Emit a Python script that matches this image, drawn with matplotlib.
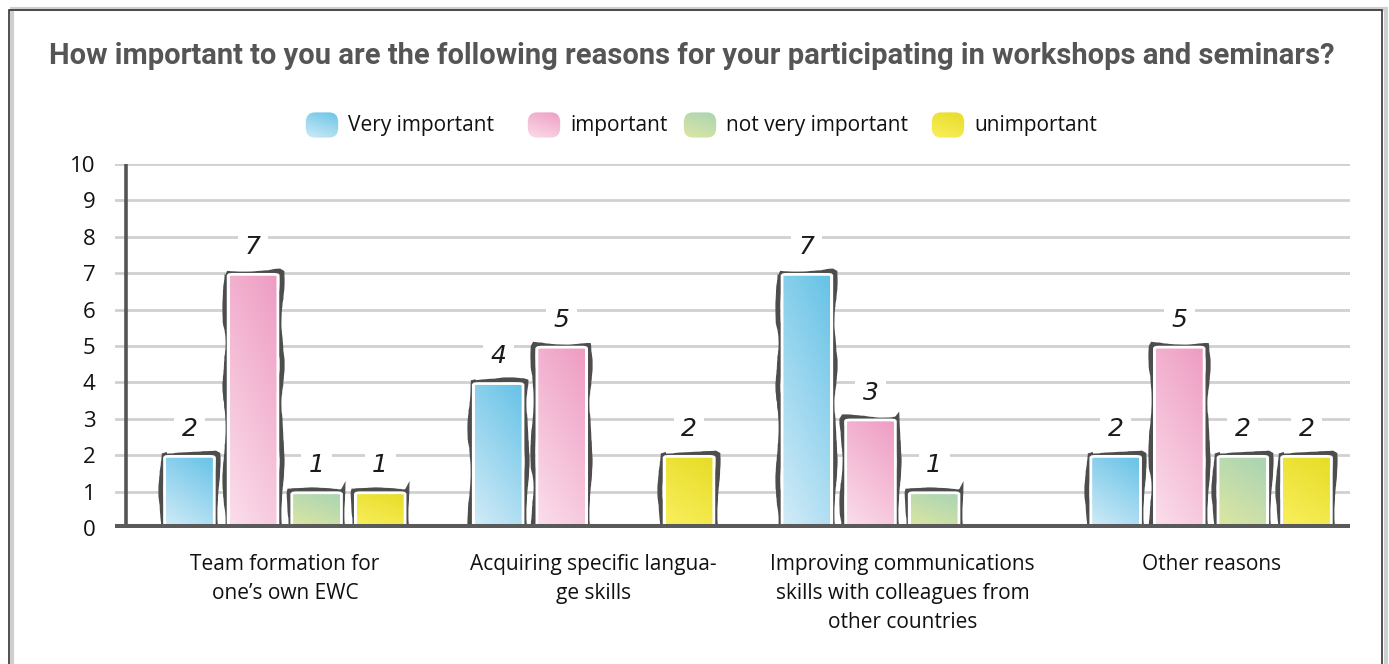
import numpy as np
import matplotlib
matplotlib.use("Agg")
import matplotlib.pyplot as plt
from matplotlib.patches import Rectangle, FancyBboxPatch
from matplotlib.colors import to_rgb

# --- data -------------------------------------------------------------
title = "How important to you are the following reasons for your participating in workshops and seminars?"
categories = [
    "Team formation for\none\u2019s own EWC",
    "Acquiring specific langua-\nge skills",
    "Improving communications\nskills with colleagues from\nother countries",
    "Other reasons",
]
series_names = ["Very important", "important", "not very important", "unimportant"]
very_important = [2, 4, 7, 2]
important = [7, 5, 3, 5]
not_very_important = [1, 0, 1, 2]
unimportant = [1, 2, 0, 2]
yticks = list(range(0, 11))

series_values = [very_important, important, not_very_important, unimportant]
# (dark corner, light corner) of each marker-style gradient
series_colors = [
    ("#66c2e6", "#d3ecf8"),
    ("#ee9cc2", "#fbdfec"),
    ("#a8d3b4", "#dfe7a2"),
    ("#e6dc25", "#faf060"),
]

plt.rcParams["font.family"] = ["Open Sans", "DejaVu Sans"]

fig = plt.figure(figsize=(13.89, 6.64), dpi=100)
fig.patch.set_facecolor("white")

# page frame with a soft shadow on the right
fig.patches.append(Rectangle((12 / 1389, -0.05), 1374 / 1389, 1.05 - 9 / 664,
                             transform=fig.transFigure, facecolor="none",
                             edgecolor="#cfcfcf", lw=3, zorder=0))
fig.patches.append(Rectangle((9 / 1389, -0.05), 1373 / 1389, 1.05 - 10 / 664,
                             transform=fig.transFigure, facecolor="none",
                             edgecolor="#333333", lw=1.2, zorder=1))

ax = fig.add_axes([115 / 1389, 136 / 664, 1235 / 1389, 364 / 664])
ax.set_facecolor("none")

n_series = len(series_values)
group_x = np.arange(len(categories))
step = 0.206
bar_w = 0.152
x_lo, x_hi = -0.55, 3.45


def gradient_image(c_dark, c_light):
    g = np.linspace(0, 1, 64)
    xx, yy = np.meshgrid(g, g)
    # rows run top to bottom: dark at the top-right, light at the bottom-left
    t = np.clip(((1 - xx) * 0.6 + yy * 1.4) / 2.0, 0, 1)
    a = np.array(to_rgb(c_dark))
    b = np.array(to_rgb(c_light))
    return a[None, None, :] * (1 - t[..., None]) + b[None, None, :] * t[..., None]


for si, vals in enumerate(series_values):
    c_dark, c_light = series_colors[si]
    img = gradient_image(c_dark, c_light)
    for gi, v in enumerate(vals):
        if v <= 0:
            continue
        xc = group_x[gi] + (si - (n_series - 1) / 2) * step
        x0, x1 = xc - bar_w / 2, xc + bar_w / 2
        # sketchy dark outline behind the fill, nudged up and to the left
        outline = Rectangle((x0 - 0.013, -0.05), bar_w + 0.023, v + 0.08,
                            facecolor="none", edgecolor="#4d4d4d", lw=3.6,
                            zorder=3)
        outline.set_sketch_params(scale=1.6, length=160, randomness=6)
        ax.add_patch(outline)
        # white halo separating the bar from grid and outline
        halo = FancyBboxPatch((x0, -0.05), bar_w, v - 0.02,
                              boxstyle="round,pad=0,rounding_size=0.012",
                              mutation_aspect=36.4 / 310 * 10,
                              facecolor="white", edgecolor="white", lw=4,
                              zorder=4)
        ax.add_patch(halo)
        clip = FancyBboxPatch((x0, -0.05), bar_w, v - 0.02,
                              boxstyle="round,pad=0,rounding_size=0.012",
                              mutation_aspect=36.4 / 310 * 10,
                              facecolor="none", edgecolor="none",
                              transform=ax.transData)
        ax.add_patch(clip)
        im = ax.imshow(img, extent=(x0, x1, -0.05, v), origin="upper",
                       aspect="auto", zorder=5, interpolation="bilinear")
        im.set_clip_path(clip)
        ax.text(xc, v + 0.72, str(v), ha="center", va="center",
                fontsize=18, fontstyle="oblique", fontweight="ultralight",
                family=["DejaVu Sans"], color="#1a1a1a",
                zorder=6,
                bbox=dict(boxstyle="square,pad=0.3", fc="white", ec="none"))

# grid, axis line and baseline
for t in yticks[1:]:
    ax.axhline(t, color="#d0d0d0", lw=2, zorder=1)
ax.plot([x_lo + 0.036, x_lo + 0.036], [0, 10], color="#555555", lw=2.6,
        zorder=2, solid_capstyle="butt")
ax.axhline(0, color="#5a5a5a", lw=6.5, zorder=7)

ax.set_xlim(x_lo, x_hi)
ax.set_ylim(0, 10)
ax.set_yticks(yticks)
ax.set_yticklabels([str(t) for t in yticks], fontsize=16, color="#111111")
ax.tick_params(axis="y", length=0, pad=14)
ax.set_xticks(group_x)
ax.set_xticklabels(categories, fontsize=15, color="#111111", linespacing=1.5,
                   va="top")
ax.tick_params(axis="x", length=0, pad=19)
for s in ax.spines.values():
    s.set_visible(False)

# title
fig.text(692 / 1389, 1 - 56 / 664, title, ha="center", va="center",
         fontsize=21, fontweight="bold", color="#555555",
         family=["Roboto", "DejaVu Sans"])

# legend with gradient swatches
legend_y = 1 - 125 / 664
swatch_x = [304, 526, 682, 930]
sw_w, sw_h = 36 / 1389, 28 / 664
for si, name in enumerate(series_names):
    c_dark, c_light = series_colors[si]
    img = gradient_image(c_dark, c_light)
    lx = swatch_x[si] / 1389
    sax = fig.add_axes([lx, legend_y - sw_h / 2, sw_w, sw_h])
    sax.set_axis_off()
    sax.set_xlim(0, 1)
    sax.set_ylim(0, 1)
    clip = FancyBboxPatch((0.05, 0.05), 0.9, 0.9,
                          boxstyle="round,pad=0,rounding_size=0.25",
                          mutation_aspect=1.4, facecolor="none",
                          edgecolor="none", transform=sax.transData)
    sax.add_patch(clip)
    im = sax.imshow(img, extent=(0, 1, 0, 1), origin="upper", aspect="auto",
                    interpolation="bilinear")
    im.set_clip_path(clip)
    fig.text(lx + 44 / 1389, legend_y, name, ha="left", va="center",
             fontsize=15, color="#111111")

fig.savefig("out.png", dpi=100, facecolor="white")
